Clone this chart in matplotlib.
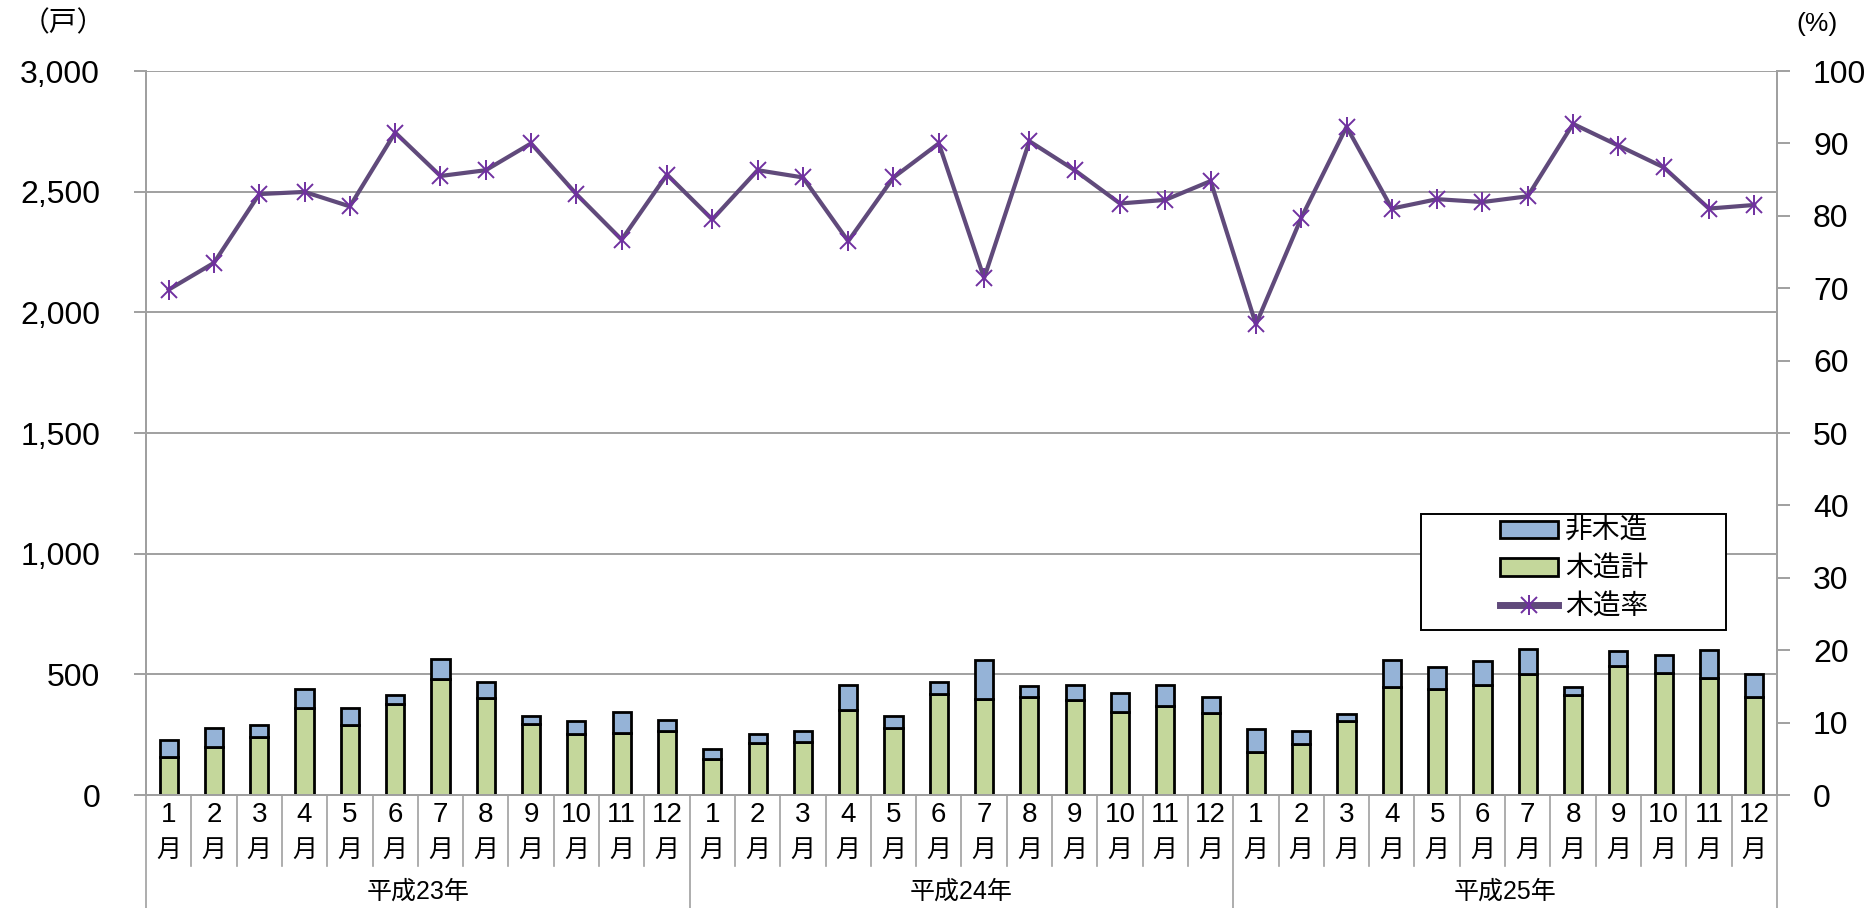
import numpy as np
import matplotlib
matplotlib.use("Agg")
import matplotlib.pyplot as plt
from matplotlib.patches import Patch, Rectangle
from matplotlib.lines import Line2D
from matplotlib.legend_handler import HandlerTuple
import matplotlib.transforms as mtransforms

plt.rcParams['font.family'] = ['Liberation Sans', 'Noto Sans CJK JP', 'DejaVu Sans']

YEARS = ["平成23年", "平成24年", "平成25年"]
MONTHS = [str(m) for m in range(1, 13)]

# 木造計 (戸)
wood = [156, 200, 239, 362, 290, 376, 481, 403, 294, 251, 258, 266,
        150, 214, 221, 351, 279, 420, 398, 406, 392, 345, 371, 338,
        178, 210, 308, 449, 438, 454, 500, 413, 536, 505, 486, 407]
# 合計 (戸)
total = [228, 276, 289, 438, 359, 413, 565, 468, 327, 307, 344, 313,
         191, 251, 265, 458, 327, 468, 558, 450, 458, 423, 456, 405,
         275, 265, 336, 559, 532, 555, 605, 447, 597, 581, 599, 501]
# 木造率 (%)
rate = [69.8, 73.5, 83.0, 83.3, 81.3, 91.5, 85.5, 86.3, 90.0, 83.0, 76.7, 85.7,
        79.5, 86.3, 85.3, 76.5, 85.3, 90.0, 71.4, 90.3, 86.3, 81.7, 82.2, 84.8,
        65.0, 79.7, 92.3, 81.0, 82.3, 81.9, 82.7, 92.7, 89.7, 86.7, 81.0, 81.5]

wood = np.array(wood)
nonwood = np.array(total) - wood
x = np.arange(len(wood))

GREEN = "#C4D79B"
BLUE = "#95B3D7"
PURPLE_LINE = "#604A7B"
PURPLE_MK = "#7030A0"
GRID = "#A0A0A0"

fig = plt.figure(figsize=(18.74, 9.08), dpi=100)
ax = fig.add_axes([0.0779, 0.1244, 0.8703, 0.7974])
ax2 = ax.twinx()

ax.set_axisbelow(True)
ax.yaxis.grid(True, color=GRID, linewidth=1.4)
ax.bar(x, wood, width=0.4, color=GREEN, edgecolor="black", linewidth=2, zorder=2)
ax.bar(x, nonwood, bottom=wood, width=0.4, color=BLUE, edgecolor="black", linewidth=2, zorder=2)

ax.set_xlim(-0.5, len(wood) - 0.5)
ax.set_ylim(0, 3000)
ax.set_yticks(np.arange(0, 3001, 500))
ax.set_yticklabels([f"{v:,}" for v in range(0, 3001, 500)])
ax.tick_params(axis="y", labelsize=23, length=9, width=1.4, color=GRID, pad=24)
ax.set_xticks([])

ax2.plot(x, rate, color=PURPLE_LINE, linewidth=3, zorder=3)
mx, = ax2.plot(x, rate, linestyle="none", marker="x", markersize=11, markeredgewidth=1.4,
               color=PURPLE_MK, zorder=4)
mv, = ax2.plot(x, rate, linestyle="none", marker="|", markersize=14, markeredgewidth=1.4,
               color=PURPLE_MK, zorder=4)
ax2.set_ylim(0, 100)
ax2.set_yticks(np.arange(0, 101, 10))
ax2.tick_params(axis="y", labelsize=23, length=9, width=1.4, color=GRID, pad=17)

for a in (ax, ax2):
    a.spines["top"].set_visible(False)
    for s in ("left", "right", "bottom"):
        a.spines[s].set_color(GRID)
        a.spines[s].set_linewidth(1.4)

# category axis: months and years
trans = mtransforms.blended_transform_factory(ax.transData, ax.transAxes)
for i in range(len(wood)):
    ax.text(i, -0.028, MONTHS[i % 12], transform=trans, ha="center", va="center", fontsize=20)
    ax.text(i, -0.076, "月", transform=trans, ha="center", va="center", fontsize=18)
for i in range(len(wood) + 1):
    xb = i - 0.5
    bottom = -0.16 if i % 12 == 0 else -0.098
    ax.plot([xb, xb], [0, bottom], transform=trans, color=GRID, linewidth=1.2, clip_on=False)
for j, yl in enumerate(YEARS):
    ax.text(j * 12 + 5.5, -0.134, yl, transform=trans, ha="center", va="center", fontsize=18)

fig.text(0.034, 0.974, "（戸）", ha="center", va="center", fontsize=20)
fig.text(0.9695, 0.974, "(%)", ha="center", va="center", fontsize=19)

# legend with its own frame
box = Rectangle((0.782, 0.228), 0.187, 0.160, transform=ax2.transAxes, facecolor="white",
                edgecolor="black", linewidth=1.4, zorder=5)
ax2.add_patch(box)
ln = Line2D([], [], color=PURPLE_LINE, linewidth=5)
handles = [Patch(facecolor=BLUE, edgecolor="black", linewidth=2),
           Patch(facecolor=GREEN, edgecolor="black", linewidth=2),
           (ln, mx, mv)]
leg = ax2.legend(handles, ["非木造", "木造計", "木造率"], loc="center",
                 bbox_to_anchor=(0.8755, 0.311), bbox_transform=ax2.transAxes,
                 frameon=False, fontsize=20, handlelength=2.1, handleheight=0.6,
                 handletextpad=0.25, labelspacing=0.42,
                 handler_map={tuple: HandlerTuple(ndivide=1)})
leg.set_zorder(6)

fig.savefig("out.png", dpi=100)
